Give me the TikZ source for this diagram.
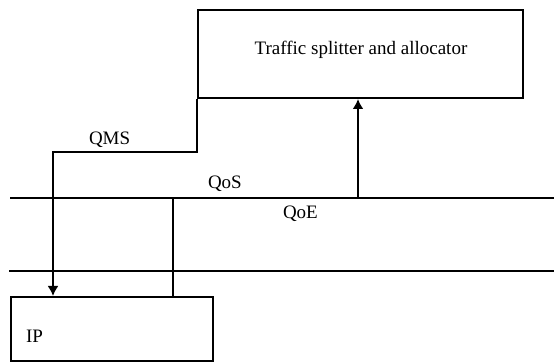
\documentclass[tikz,border=0pt]{standalone}
\usepackage{fontspec}
\setmainfont{Liberation Serif}
\usetikzlibrary{arrows.meta}
\begin{document}
\begin{tikzpicture}[x=1pt, y=-1pt, line width=2pt,
  blk/.style={draw, rectangle, inner sep=0pt, line width=2pt},
  lbl/.style={font=\fontsize{19}{22}\selectfont, inner sep=0pt},
  tip/.style={-{Latex[length=10pt,width=11pt]}}]
\useasboundingbox (0,0) rectangle (554,363);

% blocks
\node[blk, minimum width=325pt, minimum height=88pt, anchor=north west] (tsa) at (197,9) {};
\node[lbl, anchor=base] (tsatxt) at (361,55) {Traffic splitter and allocator};
\node[blk, minimum width=202pt, minimum height=64pt, anchor=north west] (ip) at (10,296) {};
\node[lbl, anchor=base west] (iptxt) at (25,342) {IP};

% horizontal layer lines
\coordinate (h1w) at (10,198);
\coordinate (h1e) at (554,198);
\coordinate (h2w) at (9,271);
\coordinate (h2e) at (554,271);
\draw (h1w) -- (h1e);
\draw (h2w) -- (h2e);

% QMS path from the splitter down to IP
\coordinate (qmsbend) at (53,152);
\draw[tip] (tsa.south west) |- (qmsbend) -- (qmsbend |- ip.north);

% QoS link from IP up to the upper line
\coordinate (vt) at (173,198);
\draw (vt) -- (vt |- ip.north);

% QoE feed up to the splitter
\coordinate (up) at (358,198);
\draw[tip] (up) -- (up |- tsa.south);

% labels
\node[lbl, anchor=base west] (qms) at (88,145) {QMS};
\node[lbl, anchor=base west] (qos) at (207,189) {QoS};
\node[lbl, anchor=base west] (qoe) at (282,219) {QoE};
\end{tikzpicture}
\end{document}
